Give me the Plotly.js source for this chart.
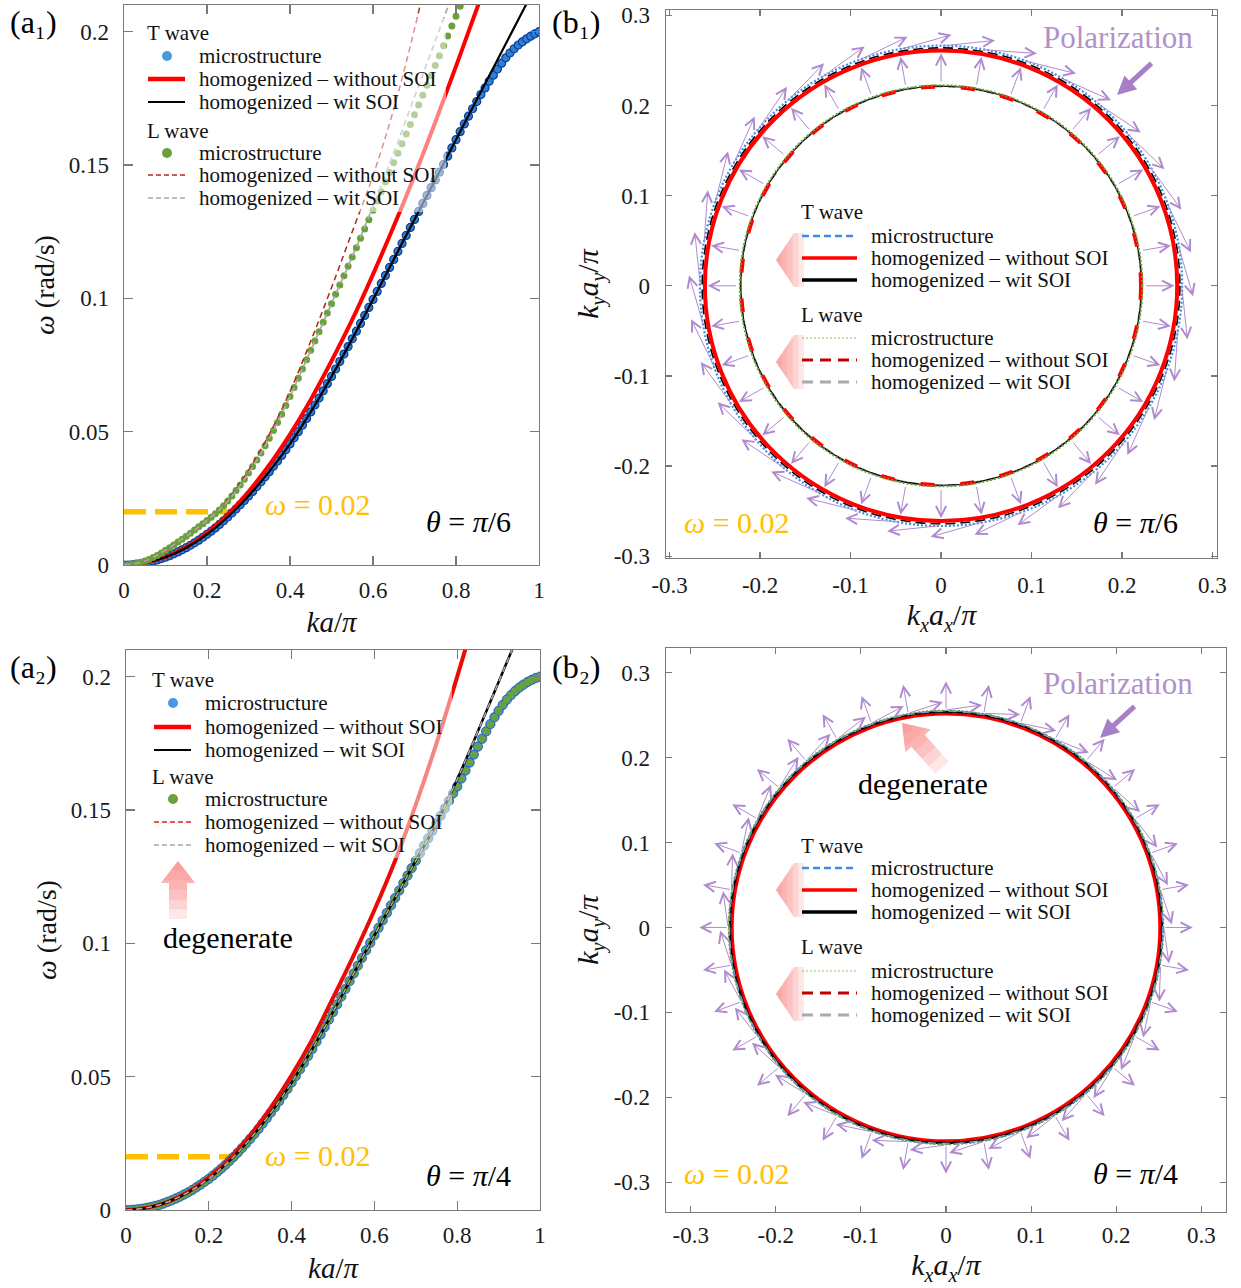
<!DOCTYPE html>
<html><head><meta charset="utf-8">
<script src="https://cdn.plot.ly/plotly-3.0.1.min.js"></script>
<style>html,body{margin:0;padding:0;background:#fff;}</style>
</head><body>
<div id="chart" style="width:1241px;height:1288px;"></div>
<script>
// ---------------- DATA ----------------
// (a1) theta = pi/6 ; x = ka/pi sampled from 0 with step 0.01 (micro) / 0.05 (homogenized)
const a1_T_micro = [
0.0000,0.0000,0.0001,0.0003,0.0005,0.0008,0.0011,0.0015,0.0019,0.0024,
0.0029,0.0035,0.0042,0.0049,0.0057,0.0065,0.0074,0.0083,0.0093,0.0104,
0.0115,0.0127,0.0139,0.0152,0.0166,0.0180,0.0195,0.0210,0.0226,0.0242,
0.0259,0.0276,0.0294,0.0312,0.0331,0.0350,0.0370,0.0390,0.0411,0.0432,
0.0454,0.0477,0.0500,0.0524,0.0549,0.0574,0.0600,0.0626,0.0653,0.0680,
0.0707,0.0735,0.0763,0.0791,0.0819,0.0848,0.0877,0.0906,0.0936,0.0966,
0.0996,0.1026,0.1056,0.1086,0.1116,0.1146,0.1176,0.1206,0.1236,0.1266,
0.1296,0.1326,0.1356,0.1386,0.1415,0.1444,0.1473,0.1502,0.1533,0.1564,
0.1595,0.1625,0.1654,0.1683,0.1711,0.1738,0.1764,0.1789,0.1814,0.1837,
0.1860,0.1882,0.1902,0.1920,0.1936,0.1950,0.1962,0.1973,0.1983,0.1992,0.2000];
const a1_T_noSOI   = [0,0.0008,0.0030,0.0067,0.0120,0.0190,0.0275,0.0375,0.0490,0.0620,0.0765,0.0920,0.1090,0.1270,0.1460,0.1660,0.1870,0.2085,0.2300];
const a1_T_withSOI = [0,0.0008,0.0029,0.0065,0.0115,0.0180,0.0259,0.0350,0.0454,0.0574,0.0707,0.0848,0.0996,0.1146,0.1296,0.1444,0.1595,0.1745,0.1895,0.2045,0.2195];
const a1_L_micro = [
0.0000,0.0001,0.0003,0.0006,0.0010,0.0015,0.0021,0.0028,0.0036,0.0045,
0.0055,0.0065,0.0075,0.0086,0.0097,0.0108,0.0119,0.0131,0.0143,0.0155,
0.0167,0.0179,0.0192,0.0206,0.0222,0.0240,0.0259,0.0279,0.0300,0.0322,
0.0345,0.0369,0.0394,0.0420,0.0447,0.0475,0.0504,0.0534,0.0565,0.0598,
0.0632,0.0666,0.0700,0.0735,0.0770,0.0805,0.0840,0.0875,0.0910,0.0945,
0.0980,0.1015,0.1050,0.1085,0.1120,0.1155,0.1190,0.1225,0.1260,0.1295,
0.1330,0.1365,0.1400,0.1436,0.1472,0.1508,0.1544,0.1580,0.1616,0.1652,
0.1688,0.1725,0.1762,0.1799,0.1836,0.1873,0.1910,0.1947,0.1984,0.2021,
0.2058,0.2095,0.2132];
const a1_L_noSOI   = [0,0.0015,0.0055,0.0108,0.0167,0.0245,0.0355,0.0490,0.0650,0.0840,0.1040,0.1250,0.1460,0.1710,0.2010,0.2350];
const a1_L_withSOI = [0,0.0015,0.0055,0.0108,0.0167,0.0240,0.0345,0.0475,0.0632,0.0805,0.0980,0.1157,0.1345,0.1545,0.1755,0.1965,0.2175];
// (a2) theta = pi/4 : T and L are degenerate
const a2_T_micro = [
0.0000,0.0000,0.0001,0.0003,0.0005,0.0008,0.0011,0.0015,0.0019,0.0024,
0.0030,0.0036,0.0043,0.0050,0.0058,0.0066,0.0075,0.0085,0.0095,0.0106,
0.0117,0.0129,0.0142,0.0155,0.0169,0.0184,0.0199,0.0215,0.0232,0.0249,
0.0267,0.0285,0.0304,0.0324,0.0344,0.0365,0.0386,0.0408,0.0431,0.0454,
0.0478,0.0502,0.0527,0.0552,0.0578,0.0604,0.0631,0.0658,0.0686,0.0714,
0.0742,0.0771,0.0800,0.0829,0.0858,0.0887,0.0916,0.0945,0.0974,0.1002,
0.1030,0.1058,0.1086,0.1114,0.1142,0.1170,0.1198,0.1226,0.1254,0.1282,
0.1310,0.1338,0.1366,0.1394,0.1422,0.1450,0.1478,0.1506,0.1534,0.1562,
0.1588,0.1618,0.1648,0.1678,0.1708,0.1738,0.1767,0.1795,0.1822,0.1848,
0.1872,0.1894,0.1914,0.1931,0.1946,0.1959,0.1970,0.1980,0.1988,0.1995,0.2000];
const a2_L_micro = a2_T_micro;
const a2_T_noSOI   = [0,0.0008,0.0030,0.0068,0.0122,0.0192,0.0280,0.0385,0.0505,0.0640,0.0795,0.0955,0.1125,0.1310,0.1520,0.1750,0.2000,0.2260];
const a2_T_withSOI = [0,0.0008,0.0030,0.0066,0.0117,0.0184,0.0267,0.0365,0.0478,0.0604,0.0742,0.0887,0.1030,0.1170,0.1310,0.1450,0.1615,0.1795,0.1980,0.2165];
const a2_L_noSOI = a2_T_noSOI;
const a2_L_withSOI = a2_T_withSOI;
// omega = 0.02 marker line
const omegaLine_x = [0, 0.265];
const omegaLine_y = [0.02, 0.02];
// (b) iso-frequency contours at omega = 0.02 : radii in k a / pi
const b1_T_radius = {micro: 0.2665, noSOI: 0.2610, withSOI: 0.2640};
const b1_L_radius = {micro: 0.2225, noSOI: 0.2210, withSOI: 0.2215};
const b2_radius   = {Tmicro: 0.2550, TnoSOI: 0.2515, TwithSOI: 0.2540, Lmicro: 0.2557, LnoSOI: 0.2520, LwithSOI: 0.2545};
// polarization arrows: positions on the contour (deg) and arrow lengths / turn from radial (deg)
const polAngles = [0,10,20,30,40,50,60,70,80,90,100,110,120,130,140,150,160,170,180,190,200,210,220,230,240,250,260,270,280,290,300,310,320,330,340,350];
const b1_L_arrow = {r0: 0.225, len: 0.033, turn: 0};     // radial (longitudinal)
const b1_T_arrow = {r0: 0.266, len: 0.060, turn: -84};   // ~tangential (transverse)
const b2_L_arrow = {r0: 0.256, len: 0.034, turn: 0};
const b2_T_arrow = {r0: 0.256, len: 0.043, turn: -82};
// tick labels for b panels
const bTickVals = [-0.3,-0.2,-0.1,0,0.1,0.2,0.3];
const bTickText = ['-0.3','-0.2','-0.1','0','0.1','0.2','0.3'];
// legend / panel texts
const waveTitles = ['T wave', 'L wave'];
const seriesNames = ['microstructure', 'homogenized – without SOI', 'homogenized – wit SOI'];
const panelLabels = ['(a₁)', '(b₁)', '(a₂)', '(b₂)'];

// ---------------- STYLE ----------------
const W = 1241, H = 1288;
const FONT = 'Liberation Serif, Times New Roman, serif';
const BLUE = '#2f7fd6', BLUE_EDGE = '#0a3f96', GREEN = '#6aa13a', RED = '#ff0000', DRED = '#b3261e', GREY = '#aaaaaa', ORANGE = '#FFC000', PURPLE = '#b08ace';
const px = (x) => x / W, py = (y) => 1 - y / H;
const SUB = (s) => '<span style="font-size:20px;baseline-shift:-7px">' + s + '</span>';
const kTitle = (c) => '<i>k' + SUB(c) + 'a' + SUB(c) + '</i>/<i>π</i>';

function ax(extra) {
  return Object.assign({
    showline: true, mirror: 'allticks', linecolor: '#7a7a7a', linewidth: 1.3,
    ticks: 'inside', ticklen: 8, tickwidth: 1.2, tickcolor: '#7a7a7a',
    showgrid: false, zeroline: false,
    tickfont: {family: FONT, size: 23, color: '#1a1a1a'}
  }, extra);
}

const traces = [];
const NL = {showlegend: false, hoverinfo: 'skip'};
// ---- a1 ----
traces.push(Object.assign({x: omegaLine_x, y: omegaLine_y, xaxis: 'x', yaxis: 'y', mode: 'lines', line: {color: ORANGE, width: 5.5, dash: '22px,9px'}}, NL));
traces.push(Object.assign({y: a1_T_micro, x0: 0, dx: 0.01, xaxis: 'x', yaxis: 'y', mode: 'markers', name: 'T microstructure',
  marker: {color: BLUE, size: 8, line: {color: BLUE_EDGE, width: 1.2}}}, NL));
traces.push(Object.assign({y: a1_T_noSOI, x0: 0, dx: 0.05, xaxis: 'x', yaxis: 'y', mode: 'lines', name: 'T homogenized – without SOI', line: {color: RED, width: 4, shape: 'spline'}}, NL));
traces.push(Object.assign({y: a1_T_withSOI, x0: 0, dx: 0.05, xaxis: 'x', yaxis: 'y', mode: 'lines', name: 'T homogenized – wit SOI', line: {color: '#000', width: 2.2, shape: 'spline'}}, NL));
traces.push(Object.assign({y: a1_L_micro, x0: 0, dx: 0.01, xaxis: 'x', yaxis: 'y', mode: 'markers', name: 'L microstructure', marker: {color: GREEN, size: 7}}, NL));
traces.push(Object.assign({y: a1_L_noSOI, x0: 0, dx: 0.05, xaxis: 'x', yaxis: 'y', mode: 'lines', name: 'L homogenized – without SOI', line: {color: DRED, width: 1.5, dash: '6px,4px', shape: 'spline'}}, NL));
traces.push(Object.assign({y: a1_L_withSOI, x0: 0, dx: 0.05, xaxis: 'x', yaxis: 'y', mode: 'lines', name: 'L homogenized – wit SOI', line: {color: GREY, width: 1.8, dash: '6px,4px', shape: 'spline'}}, NL));
// ---- a2 ----
traces.push(Object.assign({x: omegaLine_x, y: omegaLine_y, xaxis: 'x2', yaxis: 'y2', mode: 'lines', line: {color: ORANGE, width: 5.5, dash: '22px,9px'}}, NL));
traces.push(Object.assign({y: a2_T_micro, x0: 0, dx: 0.01, xaxis: 'x2', yaxis: 'y2', mode: 'markers', name: 'T microstructure',
  marker: {color: '#3d8ee0', size: 9.5, line: {color: BLUE_EDGE, width: 0.6}}}, NL));
traces.push(Object.assign({y: a2_L_micro, x0: 0, dx: 0.01, xaxis: 'x2', yaxis: 'y2', mode: 'markers', name: 'L microstructure', marker: {color: GREEN, size: 7}}, NL));
traces.push(Object.assign({y: a2_T_noSOI, x0: 0, dx: 0.05, xaxis: 'x2', yaxis: 'y2', mode: 'lines', name: 'T homogenized – without SOI', line: {color: RED, width: 4, shape: 'spline'}}, NL));
traces.push(Object.assign({y: a2_T_withSOI, x0: 0, dx: 0.05, xaxis: 'x2', yaxis: 'y2', mode: 'lines', name: 'T homogenized – wit SOI', line: {color: '#000', width: 2.5, shape: 'spline'}}, NL));
traces.push(Object.assign({y: a2_L_noSOI, x0: 0, dx: 0.05, xaxis: 'x2', yaxis: 'y2', mode: 'lines', name: 'L homogenized – without SOI', line: {color: DRED, width: 1.5, dash: '6px,4px', shape: 'spline'}}, NL));
traces.push(Object.assign({y: a2_L_withSOI, x0: 0, dx: 0.05, xaxis: 'x2', yaxis: 'y2', mode: 'lines', name: 'L homogenized – wit SOI', line: {color: GREY, width: 1.5, dash: '6px,4px', shape: 'spline'}}, NL));
// ---- b1 / b2 : empty traces that only create the subplots (contours are circle shapes) ----
traces.push(Object.assign({x: [], y: [], xaxis: 'x3', yaxis: 'y3', mode: 'lines'}, NL));
traces.push(Object.assign({x: [], y: [], xaxis: 'x4', yaxis: 'y4', mode: 'lines'}, NL));

// ---------------- SHAPES ----------------
const shapes = [];
function circle(xa, ya, r, line) {
  shapes.push({type: 'circle', xref: xa, yref: ya, x0: -r, x1: r, y0: -r, y1: r, line: line, layer: 'above'});
}
// b1 inner (L) contour
circle('x3','y3', b1_L_radius.withSOI, {color: GREY, width: 2.5, dash: '8px,5px'});
circle('x3','y3', b1_L_radius.withSOI, {color: '#000', width: 1.3});
circle('x3','y3', b1_L_radius.noSOI, {color: RED, width: 4, dash: '14px,26px'});
circle('x3','y3', b1_L_radius.micro, {color: GREEN, width: 2, dash: '2px,2px'});
// b1 outer (T) contour
circle('x3','y3', b1_T_radius.withSOI, {color: '#000', width: 1.6, dash: '10px,5px'});
circle('x3','y3', b1_T_radius.noSOI, {color: RED, width: 4});
circle('x3','y3', b1_T_radius.micro, {color: '#3d8ee0', width: 2.2, dash: '2px,2px'});
// b2 degenerate contours
circle('x4','y4', b2_radius.TnoSOI, {color: RED, width: 3.5});
circle('x4','y4', b2_radius.LnoSOI, {color: '#c00000', width: 1.5, dash: '8px,6px'});
circle('x4','y4', b2_radius.TwithSOI, {color: '#000', width: 2});
circle('x4','y4', b2_radius.LwithSOI, {color: GREY, width: 1.5, dash: '8px,6px'});
circle('x4','y4', b2_radius.Tmicro, {color: '#3d8ee0', width: 1.4, dash: '5px,3px'});
circle('x4','y4', b2_radius.Lmicro, {color: GREEN, width: 1.2, dash: '2px,2px'});

// faded pink arrows (decoration), pixel geometry -> paper
function gradArrow(tip, dir, len, headLen, headW, shaftW, n) {
  const h = Math.hypot(dir[0], dir[1]);
  const d = [dir[0] / h, dir[1] / h];
  const nn = [-d[1], d[0]];
  for (let k = 1; k <= n; k++) {
    const l = len * k / n;
    const pts = [];
    const at = (s, w) => [tip[0] - d[0] * s + nn[0] * w, tip[1] - d[1] * s + nn[1] * w];
    pts.push(at(0, 0));
    if (l <= headLen) {
      const hw = headW / 2 * l / headLen;
      pts.push(at(l, hw)); pts.push(at(l, -hw));
    } else {
      pts.push(at(headLen, headW / 2)); pts.push(at(headLen, shaftW / 2)); pts.push(at(l, shaftW / 2));
      pts.push(at(l, -shaftW / 2)); pts.push(at(headLen, -shaftW / 2)); pts.push(at(headLen, -headW / 2));
    }
    const path = 'M ' + pts.map(p => px(p[0]).toFixed(5) + ',' + py(p[1]).toFixed(5)).join(' L ') + ' Z';
    shapes.push({type: 'path', xref: 'paper', yref: 'paper', path: path, fillcolor: 'rgba(250,110,110,0.17)', line: {width: 0}, layer: 'above'});
  }
}
gradArrow([178, 861], [0, -1], 58, 22, 34, 18, 6);        // a2 "degenerate"
gradArrow([902, 723], [-35, -39], 60, 24, 34, 18, 6);     // b2 "degenerate"
gradArrow([776, 260], [-1, 0], 28, 18, 54, 54, 5);        // b1 legend T
gradArrow([776, 362], [-1, 0], 28, 18, 54, 54, 5);        // b1 legend L
gradArrow([776, 890], [-1, 0], 28, 18, 54, 54, 5);        // b2 legend T
gradArrow([776, 994], [-1, 0], 28, 18, 54, 54, 5);        // b2 legend L

// ---------------- ANNOTATIONS ----------------
const ann = [];
function txt(text, x, y, size, color, extra) {
  ann.push(Object.assign({xref: 'paper', yref: 'paper', x: px(x), y: py(y), text: text, showarrow: false,
    xanchor: 'center', yanchor: 'middle', font: {family: FONT, size: size, color: color || '#000'}}, extra || {}));
}

// ---- legends (drawn boxes with real text) ----
function legendBlock(cfg) {
  if (cfg.bg) shapes.push({type: 'rect', xref: 'paper', yref: 'paper', x0: px(cfg.bg[0]), x1: px(cfg.bg[2]), y0: py(cfg.bg[3]), y1: py(cfg.bg[1]),
    fillcolor: 'rgba(255,255,255,0.5)', line: {width: 0}, layer: 'above'});
  cfg.groups.forEach((g, gi) => {
    txt(waveTitles[gi], cfg.titleX, g.y[0], cfg.size, '#111', {xanchor: 'left'});
    g.sym.forEach((s, si) => {
      const y = g.y[si + 1];
      if (s.marker) {
        const r = s.marker.r;
        shapes.push({type: 'circle', xref: 'paper', yref: 'paper', x0: px(cfg.mx - r), x1: px(cfg.mx + r), y0: py(y + r), y1: py(y - r),
          fillcolor: s.marker.color, line: {width: 0}, layer: 'above'});
      } else {
        shapes.push({type: 'line', xref: 'paper', yref: 'paper', x0: px(cfg.sx0), x1: px(cfg.sx1), y0: py(y), y1: py(y), line: s.line, layer: 'above'});
      }
      txt(seriesNames[si], cfg.textX, y, cfg.size, '#111', {xanchor: 'left'});
    });
  });
}
legendBlock({bg: [140, 18, 446, 212], titleX: 145, sx0: 148, sx1: 185, mx: 167, textX: 197, size: 21,
  groups: [
    {y: [33, 56, 79, 102], sym: [{marker: {r: 5, color: '#4a98e0'}}, {line: {color: RED, width: 4.5}}, {line: {color: '#000', width: 2}}]},
    {y: [131, 153, 175, 198], sym: [{marker: {r: 5, color: GREEN}}, {line: {color: DRED, width: 1.3, dash: '5px,3px'}}, {line: {color: GREY, width: 1.3, dash: '5px,3px'}}]}]});
legendBlock({bg: [146, 664, 452, 858], titleX: 150, sx0: 154, sx1: 191, mx: 173, textX: 203, size: 21,
  groups: [
    {y: [680, 703, 727, 750], sym: [{marker: {r: 5, color: '#4a98e0'}}, {line: {color: RED, width: 4.5}}, {line: {color: '#000', width: 2}}]},
    {y: [777, 799, 822, 845], sym: [{marker: {r: 5, color: GREEN}}, {line: {color: '#d42020', width: 1.3, dash: '5px,3px'}}, {line: {color: GREY, width: 1.3, dash: '5px,3px'}}]}]});
const bSyms = [
  [{line: {color: '#3d8ee0', width: 2.5, dash: '7px,4px'}}, {line: {color: RED, width: 3.5}}, {line: {color: '#000', width: 3.5}}],
  [{line: {color: '#8fbf60', width: 1.2, dash: '2px,2px'}}, {line: {color: '#c00000', width: 3, dash: '11px,7px'}}, {line: {color: GREY, width: 3, dash: '11px,7px'}}]];
legendBlock({titleX: 799, sx0: 802, sx1: 857, textX: 869, size: 21,
  groups: [{y: [212, 236, 258, 280], sym: bSyms[0]}, {y: [315, 338, 360, 382], sym: bSyms[1]}]});
legendBlock({titleX: 799, sx0: 802, sx1: 857, textX: 869, size: 21,
  groups: [{y: [846, 868, 890, 912], sym: bSyms[0]}, {y: [947, 971, 993, 1015], sym: bSyms[1]}]});

txt(panelLabels[0], 33, 22, 32);
txt(panelLabels[1], 576, 22, 32);
txt(panelLabels[2], 33, 667, 32);
txt(panelLabels[3], 576, 667, 32);
txt('<i>ω</i> = 0.02', 318, 505, 30, ORANGE);
txt('<i>ω</i> = 0.02', 318, 1155, 30, ORANGE);
txt('<i>ω</i> = 0.02', 737, 522, 30, ORANGE);
txt('<i>ω</i> = 0.02', 737, 1173, 30, ORANGE);
txt('<i>θ</i> = <i>π</i>/6', 468, 521, 30);
txt('<i>θ</i> = <i>π</i>/4', 468, 1175, 30);
txt('<i>θ</i> = <i>π</i>/6', 1135, 522, 30);
txt('<i>θ</i> = <i>π</i>/4', 1135, 1173, 30);
txt('degenerate', 228, 937, 30);
txt('degenerate', 923, 783, 30);
txt('Polarization', 1118, 38, 31, '#b291c9');
txt('Polarization', 1118, 684, 31, '#b291c9');
// big polarization pointers
[[1117, 95], [1100, 738]].forEach(([x, y]) => ann.push({xref: 'paper', yref: 'paper', x: px(x), y: py(y), ax: 36, ay: -33,
  text: '', showarrow: true, arrowhead: 2, arrowsize: 0.75, arrowwidth: 5, arrowcolor: '#a77fc6', standoff: 0}));
// polarization vectors on the contours
function polArrows(xa, ya, spec) {
  polAngles.forEach(a => {
    const phi = a * Math.PI / 180, dir = (a + spec.turn) * Math.PI / 180;
    const tx = spec.r0 * Math.cos(phi), ty = spec.r0 * Math.sin(phi);
    ann.push({xref: xa, yref: ya, axref: xa, ayref: ya, ax: tx, ay: ty,
      x: tx + spec.len * Math.cos(dir), y: ty + spec.len * Math.sin(dir),
      text: '', showarrow: true, arrowhead: 5, arrowsize: 2, arrowwidth: 1, arrowcolor: PURPLE, standoff: 0, startstandoff: 0});
  });
}
polArrows('x3', 'y3', b1_L_arrow);
polArrows('x3', 'y3', b1_T_arrow);
polArrows('x4', 'y4', b2_L_arrow);
polArrows('x4', 'y4', b2_T_arrow);

// ---------------- LAYOUT ----------------
const layout = {
  width: W, height: H, margin: {l: 0, r: 0, t: 0, b: 0}, paper_bgcolor: '#fff', plot_bgcolor: '#fff',
  font: {family: FONT, color: '#111'}, showlegend: false,
  xaxis: ax({domain: [px(124), px(539)], anchor: 'y', range: [0, 1], dtick: 0.2, tick0: 0, ticklen: 9, ticklabelstandoff: 4,
    title: {text: '<i>ka</i>/<i>π</i>', font: {family: FONT, size: 29}, standoff: 9}}),
  yaxis: ax({domain: [py(565), py(5)], anchor: 'x', range: [0, 0.21], dtick: 0.05, tick0: 0, ticklen: 9, ticklabelstandoff: 9,
    title: {text: '<i>ω</i> (rad/s)', font: {family: FONT, size: 28}, standoff: 6}}),
  xaxis2: ax({domain: [px(126), px(540)], anchor: 'y2', range: [0, 1], dtick: 0.2, tick0: 0, ticklen: 9, ticklabelstandoff: 4,
    title: {text: '<i>ka</i>/<i>π</i>', font: {family: FONT, size: 29}, standoff: 10}}),
  yaxis2: ax({domain: [py(1210), py(650)], anchor: 'x2', range: [0, 0.21], dtick: 0.05, tick0: 0, ticklen: 9, ticklabelstandoff: 9,
    title: {text: '<i>ω</i> (rad/s)', font: {family: FONT, size: 28}, standoff: 6}}),
  xaxis3: ax({domain: [px(666), px(1217)], anchor: 'y3', range: [-0.304, 0.305], tickmode: 'array', tickvals: bTickVals, ticktext: bTickText, ticklen: 6, ticklabelstandoff: 6,
    title: {text: kTitle('x'), font: {family: FONT, size: 30}, standoff: 6}}),
  yaxis3: ax({domain: [py(558), py(10)], anchor: 'x3', range: [-0.302, 0.306], tickmode: 'array', tickvals: bTickVals, ticktext: bTickText, ticklen: 6, ticklabelstandoff: 10,
    title: {text: kTitle('y'), font: {family: FONT, size: 30}, standoff: 6}}),
  xaxis4: ax({domain: [px(666), px(1226)], anchor: 'y4', range: [-0.329, 0.329], tickmode: 'array', tickvals: bTickVals, ticktext: bTickText, ticklen: 6, ticklabelstandoff: 2,
    title: {text: kTitle('x'), font: {family: FONT, size: 30}, standoff: 3}}),
  yaxis4: ax({domain: [py(1212), py(648)], anchor: 'x4', range: [-0.335, 0.329], tickmode: 'array', tickvals: bTickVals, ticktext: bTickText, ticklen: 6, ticklabelstandoff: 10,
    title: {text: kTitle('y'), font: {family: FONT, size: 30}, standoff: 6}}),
  shapes: shapes,
  annotations: ann
};

Plotly.newPlot('chart', traces, layout, {staticPlot: true, displayModeBar: false});
</script>
</body></html>
